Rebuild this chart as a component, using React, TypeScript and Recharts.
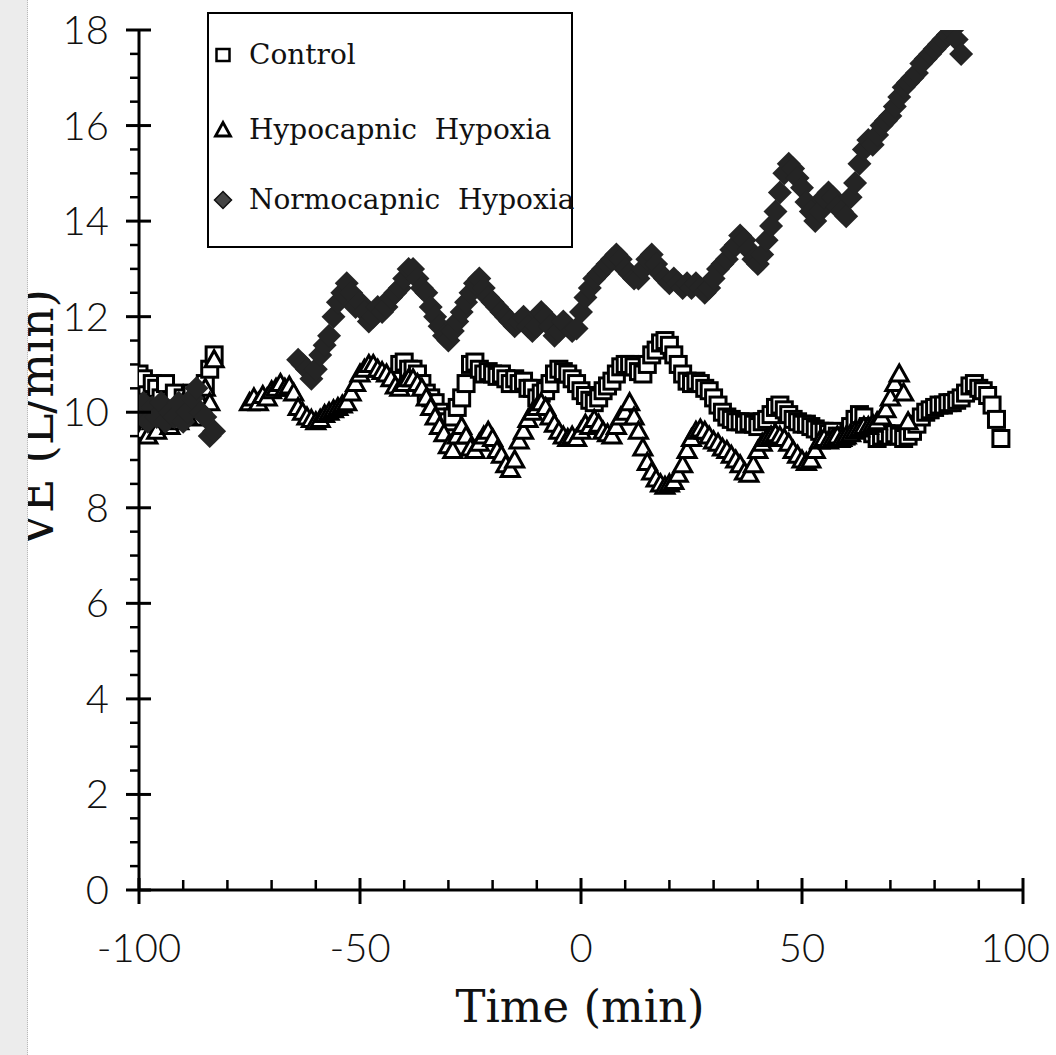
import { Legend, Scatter, ScatterChart, XAxis, YAxis } from "recharts"

// time (min), VE (L/min)
const controlPts: [number, number][] = [
  [-100, 10.8], [-99, 10.7], [-98, 10.2], [-97, 10.6], [-96, 10.5], [-95, 10.3], [-94, 10.6], [-93, 10.2],
  [-92, 10.4], [-91, 10.0], [-90, 10.3], [-89, 10.1], [-88, 10.4], [-87, 9.9], [-86, 10.4], [-85, 10.6],
  [-84, 10.9], [-83, 11.2],
  [-41, 11.0], [-40, 11.05], [-39, 10.9], [-38, 10.9], [-37, 10.8], [-36, 10.6], [-35, 10.4], [-34, 10.3],
  [-33, 10.2], [-32, 10.0], [-31, 9.9], [-30, 9.8], [-29, 9.9], [-28, 10.1], [-27, 10.3], [-26, 10.6],
  [-25, 11.0], [-24, 11.05], [-23, 10.9], [-22, 10.8], [-21, 10.85], [-20, 10.8], [-19, 10.75], [-18, 10.8],
  [-17, 10.7], [-16, 10.6], [-15, 10.7], [-14, 10.6], [-13, 10.65], [-12, 10.5], [-11, 10.5], [-10, 10.3],
  [-9, 10.4], [-8, 10.45], [-7, 10.6], [-6, 10.8], [-5, 10.9], [-4, 10.85], [-3, 10.8], [-2, 10.7],
  [-1, 10.6], [0, 10.45], [1, 10.35], [2, 10.25], [3, 10.2], [4, 10.3], [5, 10.45], [6, 10.55],
  [7, 10.65], [8, 10.8], [9, 10.95], [10, 11.0], [11, 11.0], [12, 10.95], [13, 10.85], [14, 10.8],
  [15, 11.0], [16, 11.2], [17, 11.3], [18, 11.45], [19, 11.5], [20, 11.4], [21, 11.2], [22, 11.0],
  [23, 10.8], [24, 10.65], [25, 10.6], [26, 10.65], [27, 10.6], [28, 10.5], [29, 10.45], [30, 10.3],
  [31, 10.15], [32, 10.0], [33, 9.9], [34, 9.85], [35, 9.8], [36, 9.8], [37, 9.75], [38, 9.8],
  [39, 9.75], [40, 9.7], [41, 9.8], [42, 9.85], [43, 9.95], [44, 10.1], [45, 10.15], [46, 10.05],
  [47, 9.95], [48, 9.85], [49, 9.8], [50, 9.75], [51, 9.75], [52, 9.7], [53, 9.65], [54, 9.6],
  [55, 9.6], [56, 9.55], [57, 9.6], [58, 9.5], [59, 9.45], [60, 9.5], [61, 9.7], [62, 9.85],
  [63, 9.95], [64, 9.9], [65, 9.7], [66, 9.55], [67, 9.45], [68, 9.5], [69, 9.55], [70, 9.5],
  [71, 9.55], [72, 9.5], [73, 9.45], [74, 9.5], [75, 9.6], [76, 9.75], [77, 9.9], [78, 10.0],
  [79, 10.05], [80, 10.1], [81, 10.15], [82, 10.15], [83, 10.2], [84, 10.2], [85, 10.25], [86, 10.3],
  [87, 10.4], [88, 10.55], [89, 10.6], [90, 10.5], [91, 10.45], [92, 10.35], [93, 10.15], [94, 9.85],
  [95, 9.45],
]

const hypocapnicPts: [number, number][] = [
  [-100, 9.9], [-99, 9.6], [-98, 9.5], [-97, 9.8], [-96, 9.6], [-95, 9.9], [-94, 10.0], [-93, 9.7],
  [-92, 10.1], [-91, 9.8], [-90, 10.2], [-89, 9.9], [-88, 10.2], [-87, 10.4], [-86, 10.2], [-85, 10.5],
  [-84, 10.2], [-83, 11.1],
  [-75, 10.2], [-74, 10.3], [-73, 10.2], [-72, 10.35], [-71, 10.3], [-70, 10.45], [-69, 10.5], [-68, 10.6],
  [-67, 10.5], [-66, 10.55], [-65, 10.4], [-64, 10.1], [-63, 10.0], [-62, 9.9], [-61, 9.85], [-60, 9.8],
  [-59, 9.85], [-58, 9.95], [-57, 10.0], [-56, 10.05], [-55, 10.1], [-54, 10.15], [-53, 10.2], [-52, 10.4],
  [-51, 10.6], [-50, 10.8], [-49, 10.9], [-48, 11.0], [-47, 11.0], [-46, 10.9], [-45, 10.85], [-44, 10.8],
  [-43, 10.7], [-42, 10.55], [-41, 10.5], [-40, 10.6], [-39, 10.7], [-38, 10.7], [-37, 10.6], [-36, 10.5],
  [-35, 10.3], [-34, 10.1], [-33, 9.9], [-32, 9.7], [-31, 9.55], [-30, 9.3], [-29, 9.2], [-28, 9.5],
  [-27, 9.7], [-26, 9.5], [-25, 9.25], [-24, 9.2], [-23, 9.35], [-22, 9.5], [-21, 9.6], [-20, 9.45],
  [-19, 9.2], [-18, 9.1], [-17, 8.9], [-16, 8.8], [-15, 9.0], [-14, 9.4], [-13, 9.6], [-12, 9.85],
  [-11, 10.0], [-10, 10.1], [-9, 10.2], [-8, 10.1], [-7, 9.9], [-6, 9.75], [-5, 9.6], [-4, 9.5],
  [-3, 9.45], [-2, 9.5], [-1, 9.45], [0, 9.6], [1, 9.75], [2, 9.7], [3, 9.85], [4, 9.75],
  [5, 9.6], [6, 9.55], [7, 9.5], [8, 9.7], [9, 9.9], [10, 10.0], [11, 10.2], [12, 9.9],
  [13, 9.6], [14, 9.25], [15, 8.95], [16, 8.75], [17, 8.6], [18, 8.5], [19, 8.45], [20, 8.5],
  [21, 8.55], [22, 8.7], [23, 8.9], [24, 9.2], [25, 9.45], [26, 9.6], [27, 9.65], [28, 9.6],
  [29, 9.5], [30, 9.4], [31, 9.35], [32, 9.25], [33, 9.2], [34, 9.1], [35, 9.0], [36, 8.9],
  [37, 8.75], [38, 8.7], [39, 8.9], [40, 9.2], [41, 9.35], [42, 9.45], [43, 9.5], [44, 9.55],
  [45, 9.5], [46, 9.45], [47, 9.35], [48, 9.2], [49, 9.1], [50, 9.0], [51, 8.95], [52, 9.0],
  [53, 9.2], [54, 9.4], [55, 9.45], [56, 9.4], [57, 9.45], [58, 9.5], [59, 9.45], [60, 9.5],
  [61, 9.55], [62, 9.6], [63, 9.65], [64, 9.7], [65, 9.7], [66, 9.75], [67, 9.8], [68, 9.9],
  [69, 10.05], [70, 10.3], [71, 10.6], [72, 10.8], [73, 10.4], [74, 9.8],
]

const normocapnicPts: [number, number][] = [
  [-100, 10.0], [-99, 10.2], [-98, 9.8], [-97, 10.1], [-96, 9.9], [-95, 10.2], [-94, 9.8], [-93, 10.0],
  [-92, 9.9], [-91, 10.2], [-90, 9.8], [-89, 10.0], [-88, 10.3], [-87, 10.5], [-86, 10.0], [-85, 9.9],
  [-84, 9.5], [-83, 9.6],
  [-64, 11.1], [-63, 11.0], [-62, 10.9], [-61, 10.7], [-60, 10.9], [-59, 11.2], [-58, 11.4], [-57, 11.6],
  [-56, 12.0], [-55, 12.3], [-54, 12.5], [-53, 12.7], [-52, 12.5], [-51, 12.2], [-50, 12.3], [-49, 12.1],
  [-48, 11.9], [-47, 12.0], [-46, 12.2], [-45, 12.1], [-44, 12.2], [-43, 12.4], [-42, 12.5], [-41, 12.6],
  [-40, 12.8], [-39, 13.0], [-38, 13.0], [-37, 12.8], [-36, 12.6], [-35, 12.5], [-34, 12.2], [-33, 12.0],
  [-32, 11.8], [-31, 11.6], [-30, 11.5], [-29, 11.7], [-28, 11.9], [-27, 12.1], [-26, 12.3], [-25, 12.5],
  [-24, 12.7], [-23, 12.8], [-22, 12.6], [-21, 12.4], [-20, 12.3], [-19, 12.2], [-18, 12.1], [-17, 12.0],
  [-16, 11.9], [-15, 11.8], [-14, 11.9], [-13, 12.0], [-12, 11.8], [-11, 11.7], [-10, 11.8], [-9, 12.1],
  [-8, 12.0], [-7, 11.8], [-6, 11.6], [-5, 11.7], [-4, 11.9], [-3, 11.8], [-2, 11.7], [-1, 11.75],
  [0, 12.1], [1, 12.4], [2, 12.6], [3, 12.8], [4, 12.9], [5, 13.0], [6, 13.1], [7, 13.2],
  [8, 13.3], [9, 13.2], [10, 13.0], [11, 12.9], [12, 12.8], [13, 12.8], [14, 13.0], [15, 13.2],
  [16, 13.3], [17, 13.1], [18, 12.9], [19, 12.8], [20, 12.7], [21, 12.8], [22, 12.7], [23, 12.6],
  [24, 12.7], [25, 12.6], [26, 12.7], [27, 12.6], [28, 12.5], [29, 12.6], [30, 12.8], [31, 13.0],
  [32, 13.1], [33, 13.2], [34, 13.4], [35, 13.5], [36, 13.7], [37, 13.6], [38, 13.4], [39, 13.2],
  [40, 13.1], [41, 13.3], [42, 13.6], [43, 13.9], [44, 14.2], [45, 14.6], [46, 15.0], [47, 15.2],
  [48, 15.1], [49, 14.9], [50, 14.7], [51, 14.4], [52, 14.2], [53, 14.0], [54, 14.2], [55, 14.5],
  [56, 14.6], [57, 14.5], [58, 14.3], [59, 14.2], [60, 14.1], [61, 14.5], [62, 14.8], [63, 15.2],
  [64, 15.5], [65, 15.7], [66, 15.6], [67, 15.8], [68, 16.0], [69, 16.1], [70, 16.2], [71, 16.4],
  [72, 16.6], [73, 16.8], [74, 16.9], [75, 17.0], [76, 17.1], [77, 17.3], [78, 17.4], [79, 17.5],
  [80, 17.6], [81, 17.7], [82, 17.8], [83, 17.9], [84, 18.0], [85, 17.8], [86, 17.5],
]

const seriesNames = ["Control", "Hypocapnic  Hypoxia", "Normocapnic  Hypoxia"]

const xTicks = [-100, -90, -80, -70, -60, -50, -40, -30, -20, -10, 0, 10, 20, 30, 40, 50, 60, 70, 80, 90, 100]
const yTicks = [
  0, 0.5, 1, 1.5, 2, 2.5, 3, 3.5, 4, 4.5, 5, 5.5, 6, 6.5, 7, 7.5, 8, 8.5, 9, 9.5,
  10, 10.5, 11, 11.5, 12, 12.5, 13, 13.5, 14, 14.5, 15, 15.5, 16, 16.5, 17, 17.5, 18,
]

const toRows = (pts: [number, number][]) => pts.map(([t, ve]) => ({ t, ve }))

const TICK_FONT = "Lato, 'DejaVu Sans', sans-serif"
const SERIF = "'DejaVu Serif', serif"
const DIAMOND_FILL = "#242424"

function SquareDot({ cx, cy }: any) {
  return <rect x={cx - 8} y={cy - 8} width={16} height={16} fill="#fff" stroke="#000" strokeWidth={3} />
}

function TriangleDot({ cx, cy }: any) {
  return (
    <path
      d={`M${cx},${cy - 9} L${cx + 9},${cy + 7} L${cx - 9},${cy + 7} Z`}
      fill="#fff"
      stroke="#000"
      strokeWidth={3}
    />
  )
}

function DiamondDot({ cx, cy }: any) {
  return <path d={`M${cx},${cy - 12} L${cx + 12},${cy} L${cx},${cy + 12} L${cx - 12},${cy} Z`} fill={DIAMOND_FILL} />
}

function XTick({ x, y, payload }: any) {
  const v = payload.value
  const major = v % 50 === 0
  const last = v === 100
  return (
    <g>
      {major ? (
        <line x1={x} x2={x} y1={y - 12} y2={y + 14} stroke="#000" strokeWidth={3} />
      ) : (
        <line x1={x} x2={x} y1={y - 10} y2={y} stroke="#000" strokeWidth={2.5} />
      )}
      {major && (
        <text
          x={last ? x + 27 : x}
          y={y + 72}
          textAnchor={last ? "end" : "middle"}
          fontFamily={TICK_FONT}
          fontWeight={300}
          fontSize={40}
          fill="#111"
        >
          {v}
        </text>
      )}
    </g>
  )
}

function YTick({ x, y, payload }: any) {
  const v = payload.value
  const major = v % 2 === 0
  return (
    <g>
      {major ? (
        <line x1={x - 13} x2={x + 12} y1={y} y2={y} stroke="#000" strokeWidth={3} />
      ) : (
        <line x1={x - 9} x2={x} y1={y} y2={y} stroke="#000" strokeWidth={2.5} />
      )}
      {major && (
        <text x={x - 30} y={y + 14} textAnchor="end" fontFamily={TICK_FONT} fontWeight={300} fontSize={40} fill="#111">
          {v}
        </text>
      )}
    </g>
  )
}

function LegendMarker({ idx }: { idx: number }) {
  return (
    <svg width={22} height={22} style={{ position: "absolute", left: 3, top: 9 }}>
      {idx === 0 && <rect x={4.5} y={5} width={13} height={12} fill="#fff" stroke="#000" strokeWidth={2.5} />}
      {idx === 1 && <path d="M11,3.5 L18.5,17 L3.5,17 Z" fill="#fff" stroke="#000" strokeWidth={2.8} />}
      {idx === 2 && <path d="M11,2.5 L19.5,11 L11,19.5 L2.5,11 Z" fill="#444" stroke="#111" strokeWidth={1.5} />}
    </svg>
  )
}

function LegendBox({ payload }: any) {
  const rowTops = [21, 96, 166]
  return (
    <div style={{ position: "relative", width: "100%", height: "100%" }}>
      {(payload || []).map((entry: any, i: number) => (
        <div key={i} style={{ position: "absolute", left: 0, top: rowTops[i], height: 40, width: "100%" }}>
          <LegendMarker idx={i} />
          <span
            style={{
              position: "absolute",
              left: 40,
              top: 0,
              lineHeight: "40px",
              fontFamily: SERIF,
              fontSize: 28,
              whiteSpace: "pre",
              color: "#111",
            }}
          >
            {entry.value}
          </span>
        </div>
      ))}
    </div>
  )
}

export default function App() {
  return (
    <div style={{ position: "absolute", left: 0, top: 0, width: 1056, height: 1055, background: "#fff" }}>
      <ScatterChart width={1056} height={1055} margin={{ top: 30, right: 33, bottom: 105, left: 79 }}>
        <XAxis
          type="number"
          dataKey="t"
          domain={[-100, 100]}
          ticks={xTicks}
          interval={0}
          height={60}
          tickSize={0}
          tickMargin={0}
          tickLine={false}
          axisLine={{ stroke: "#000", strokeWidth: 3 }}
          tick={<XTick />}
          allowDataOverflow
        />
        <YAxis
          type="number"
          dataKey="ve"
          domain={[0, 18]}
          ticks={yTicks}
          interval={0}
          width={60}
          tickSize={0}
          tickMargin={0}
          tickLine={false}
          axisLine={{ stroke: "#000", strokeWidth: 3 }}
          tick={<YTick />}
          allowDataOverflow
        />
        <Legend
          layout="horizontal"
          verticalAlign="middle"
          align="center"
          content={<LegendBox />}
          wrapperStyle={{
            position: "absolute",
            left: 207,
            top: 12,
            width: 366,
            height: 236,
            border: "2px solid #000",
            boxSizing: "border-box",
            background: "#fff",
          }}
        />
        <Scatter
          name={seriesNames[0]}
          data={toRows(controlPts)}
          shape={<SquareDot />}
          legendType="square"
          isAnimationActive={false}
        />
        <Scatter
          name={seriesNames[1]}
          data={toRows(hypocapnicPts)}
          shape={<TriangleDot />}
          legendType="triangle"
          isAnimationActive={false}
        />
        <Scatter
          name={seriesNames[2]}
          data={toRows(normocapnicPts)}
          shape={<DiamondDot />}
          legendType="diamond"
          isAnimationActive={false}
        />
        <text
          x={53}
          y={418}
          transform="rotate(-90, 53, 418)"
          textAnchor="middle"
          fontFamily={SERIF}
          fontSize={48}
          textLength={258}
          lengthAdjust="spacingAndGlyphs"
          fill="#111"
        >
          V̇E (L/min)
        </text>
        <text x={580} y={1022} textAnchor="middle" fontFamily={SERIF} fontSize={45} fill="#111">
          Time (min)
        </text>
      </ScatterChart>
      <div
        style={{
          position: "absolute",
          left: 0,
          top: 0,
          width: 27,
          height: 1055,
          background: "#ececec",
          borderRight: "1px dotted #b8b8b8",
        }}
      />
    </div>
  )
}
